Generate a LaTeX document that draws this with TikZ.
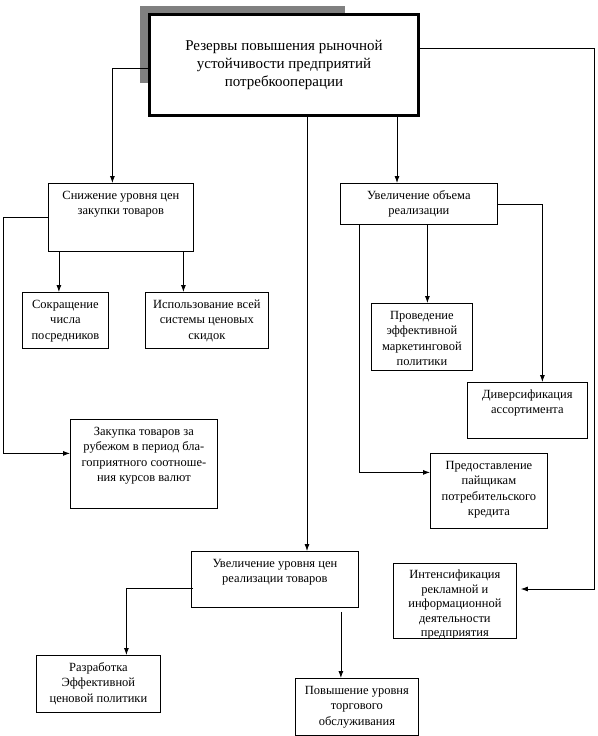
\documentclass[tikz,border=0pt]{standalone}
\usepackage{fontspec}
\setmainfont{Liberation Serif}
\usetikzlibrary{arrows.meta}

\newcommand{\boxlines}[3]{\parbox[c][#2][t]{#1}{\centering\vspace*{5pt}\strut #3}}

\begin{document}
\begin{tikzpicture}[x=1pt,y=-1pt,
  blk/.style={draw, anchor=north west, inner sep=0pt, line width=0.8pt, font=\fontsize{12.5}{15.5}\selectfont},
  arr/.style={-{Latex[length=7pt,width=5pt]}, line width=0.8pt}]

\useasboundingbox (0,0) rectangle (597,736);

% shadow behind the main box
\fill[gray] (140,6) rectangle (345,83);
\node[draw, fill=white, line width=3pt, minimum width=269pt, minimum height=101pt, inner sep=0pt,
  align=center, font=\fontsize{15}{18}\selectfont] (main) at (284,65)
  {Резервы повышения рыночной\\устойчивости предприятий\\потребкооперации};

\node[blk] (snab) at (48,183) {\boxlines{145pt}{68pt}{Снижение уровня цен\\закупки товаров}};
\node[blk] (sokr) at (22,292) {\boxlines{86pt}{56pt}{Сокращение\\числа\\посредников}};
\node[blk] (ispolz) at (145,292) {\boxlines{123pt}{56pt}{Использование всей\\системы ценовых\\скидок}};
\node[blk] (zakup) at (70,419) {\boxlines{147pt}{89pt}{Закупка товаров за\\рубежом в период бла-\\гоприятного соотноше-\\ния курсов валют}};

\node[blk] (uvob) at (340,183) {\boxlines{157pt}{41pt}{Увеличение объема\\реализации}};
\node[blk] (provod) at (371,303) {\boxlines{101pt}{67pt}{Проведение\\эффективной\\маркетинговой\\политики}};
\node[blk] (divers) at (467,382) {\boxlines{120pt}{56pt}{Диверсификация\\ассортимента}};
\node[blk] (predost) at (430,453) {\boxlines{117pt}{75pt}{Предоставление\\пайщикам\\потребительского\\кредита}};
\node[blk, font=\fontsize{12.5}{14.5}\selectfont] (intens) at (393,563)
  {\boxlines{123pt}{75pt}{Интенсификация\\рекламной и\\информационной\\деятельности\\предприятия}};

\node[blk] (uvur) at (191,551) {\boxlines{167pt}{56pt}{Увеличение уровня  цен\\реализации товаров}};
\node[blk] (razr) at (36,655) {\boxlines{124pt}{57pt}{Разработка\\Эффективной\\ценовой политики}};
\node[blk] (povysh) at (295,678) {\boxlines{123pt}{57pt}{Повышение уровня\\торгового\\обслуживания}};

\coordinate (rt) at (594,589);

% from the main box
\draw[arr] ([yshift=-3pt]main.west) -| ([xshift=-8.5pt]snab.north);
\draw[arr] ([xshift=23pt]main.south) -- ([xshift=23pt]main.south |- uvur.north);
\draw[arr] ([xshift=113pt]main.south) -- ([xshift=113pt]main.south |- uvob.north);
\draw[arr] ([yshift=17pt]main.east) -| (rt) -- ([xshift=4pt]intens.east |- rt);

% purchase prices
\draw[arr] (snab.west) -- ++(-45,0) |- ([yshift=10.5pt]zakup.west);
\draw[arr] ([xshift=-6.5pt]sokr.north |- snab.south) -- ([xshift=-6.5pt]sokr.north);
\draw[arr] ([xshift=-23.5pt]ispolz.north |- snab.south) -- ([xshift=-23.5pt]ispolz.north);

% sales volume
\draw[arr] ([xshift=-59.5pt]uvob.south) |- ([yshift=18.5pt]predost.west);
\draw[arr] ([xshift=5.5pt]provod.north |- uvob.south) -- ([xshift=5.5pt]provod.north);
\draw[arr] (uvob.east) -| ([xshift=15pt]divers.north);

% selling prices
\draw[arr] ([xshift=2pt,yshift=-9pt]uvur.west) -| ([xshift=28pt]razr.north);
\draw[arr] ([xshift=-16pt,yshift=-4pt]povysh.north |- uvur.south) -- ([xshift=-16pt]povysh.north);

\end{tikzpicture}
\end{document}
